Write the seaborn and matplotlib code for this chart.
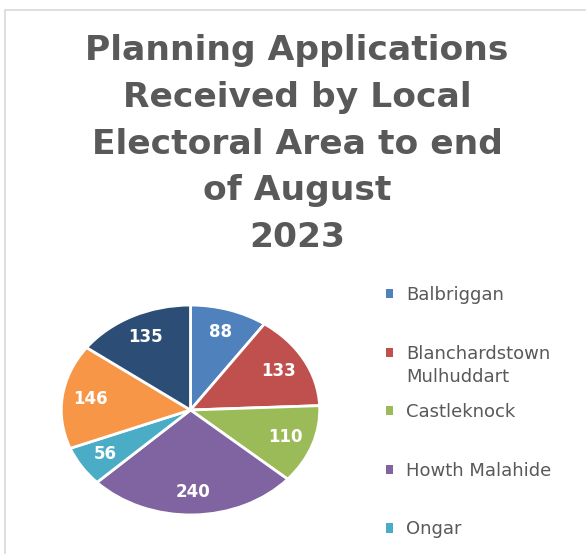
import matplotlib
matplotlib.use("Agg")
import matplotlib.pyplot as plt
import seaborn as sns
from matplotlib.patches import Rectangle, Patch

# data
areas = ["Balbriggan", "Blanchardstown", "Castleknock",
         "Howth Malahide", "Ongar", "Rush Lusk", "Swords"]
area_second_line = "Mulhuddart"  # "Blanchardstown Mulhuddart" wraps in the legend
applications = [88, 133, 110, 240, 56, 146, 135]
colors = ["#4F81BD", "#C0504D", "#9BBB59", "#8064A2", "#4BACC6", "#F79646", "#2C4D75"]
title = "Planning Applications\nReceived by Local\nElectoral Area to end\nof August\n2023"
n_legend_visible = 5  # the screenshot cuts the legend after Ongar

sns.set_theme(style="white")
plt.rcParams['font.family'] = ['DejaVu Sans']

fig = plt.figure(figsize=(5.86, 5.54), dpi=100)

# chart border (cut off on the right and bottom like the screenshot)
fig.patches.append(Rectangle((5 / 586, -0.1), 1.2, 1 - 10 / 554 + 0.1,
                             transform=fig.transFigure, fill=False,
                             edgecolor="#D9D9D9", linewidth=1.2))

fig.text(0.507, 1 - 34 / 554, title, ha="center", va="top", fontsize=24.8,
         fontweight="bold", color="#595959", linespacing=1.53)

ax = fig.add_axes([60 / 586, 38 / 554, 261 / 586, 212 / 554])
wedges, texts = ax.pie(applications, labels=[str(v) for v in applications],
                       colors=colors, startangle=90, counterclock=False,
                       labeldistance=0.78,
                       wedgeprops=dict(edgecolor="white", linewidth=2),
                       textprops=dict(color="white", fontweight="bold",
                                      fontsize=12, ha="center", va="center"))
ax.set_aspect("auto")
ax.set_xlim(-1.01, 1.01)
ax.set_ylim(-1.01, 1.01)

handles = [Patch(facecolor=c, edgecolor="none") for c in colors]
leg = fig.legend(handles[:n_legend_visible], areas[:n_legend_visible],
                 loc="upper left", bbox_to_anchor=(386 / 586, 1 - 286 / 554),
                 frameon=False, fontsize=13, labelcolor="#595959",
                 handlelength=0.4, handleheight=0.4, handletextpad=0.72,
                 labelspacing=2.25, borderpad=0, borderaxespad=0)

# second line of the wrapped legend label, placed under its first line
fig.canvas.draw()
bb = leg.get_texts()[1].get_window_extent().transformed(fig.transFigure.inverted())
fig.text(bb.x0, (bb.y0 + bb.y1) / 2 - 23 / 554, area_second_line,
         ha="left", va="center", fontsize=13, color="#595959")

fig.savefig("out.png", dpi=100)
